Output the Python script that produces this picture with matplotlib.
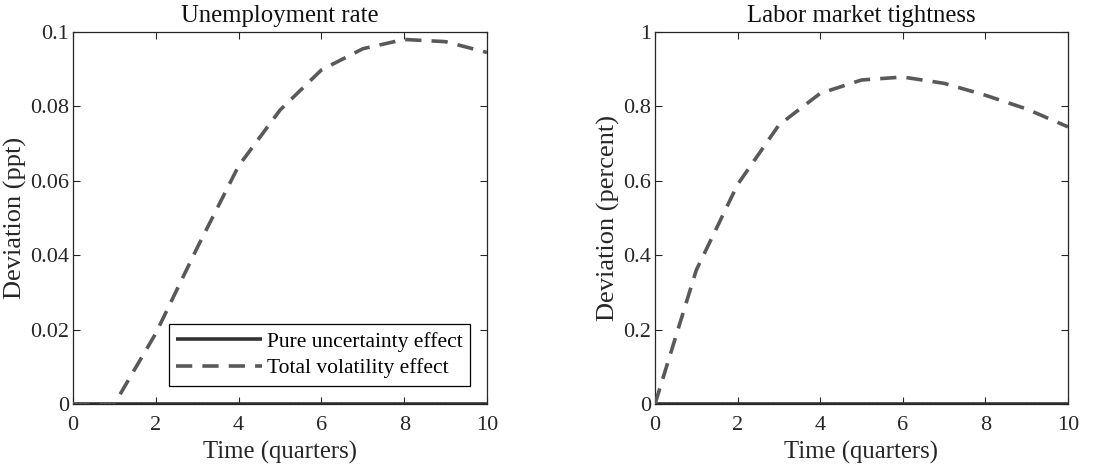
import matplotlib
matplotlib.use("Agg")
import matplotlib.pyplot as plt
import numpy as np

plt.rcParams['font.family'] = ['Liberation Serif', 'DejaVu Serif']
plt.rcParams['mathtext.fontset'] = 'stix'

# quarters after the shock
quarters = [0, 1, 2, 3, 4, 5, 6, 7, 8, 9, 10]

# unemployment rate (ppt)
unemp_pure = [0, 0, 0, 0, 0, 0, 0, 0, 0, 0, 0]
unemp_total = [0.0, 0.0, 0.019, 0.042, 0.064, 0.079, 0.0898, 0.0955, 0.098, 0.0974, 0.0945]

# labor market tightness (percent)
tight_pure = [0, 0, 0, 0, 0, 0, 0, 0, 0, 0, 0]
tight_total = [0.0, 0.36, 0.59, 0.75, 0.835, 0.871, 0.879, 0.862, 0.83, 0.793, 0.745]

titles = ['Unemployment rate', 'Labor market tightness']
ylabels = ['Deviation (ppt)', 'Deviation (percent)']
yticks = [[0, 0.02, 0.04, 0.06, 0.08, 0.1], [0, 0.2, 0.4, 0.6, 0.8, 1]]
yticklabels = [['0', '0.02', '0.04', '0.06', '0.08', '0.1'], ['0', '0.2', '0.4', '0.6', '0.8', '1']]

fig = plt.figure(figsize=(11.2, 4.72), dpi=100)
ax1 = fig.add_axes([73/1120, 1-404/472, (487-73)/1120, (404-32)/472])
ax2 = fig.add_axes([655/1120, 1-404/472, (1068-655)/1120, (404-32)/472])

series = [(unemp_pure, unemp_total), (tight_pure, tight_total)]
for i, ax in enumerate([ax1, ax2]):
    pure, total = series[i]
    ax.plot(quarters, pure, color='#333333', lw=2.6, solid_capstyle='butt',
            label='Pure uncertainty effect', zorder=3)
    ax.plot(quarters, total, color='#595959', lw=2.6, ls=(0, (4.5, 2.8)),
            label='Total volatility effect', zorder=4)
    ax.axhline(0, color='black', lw=1.0, ls=(0, (1, 2)), zorder=5)
    ax.set_xlim(0, 10)
    ax.set_ylim(yticks[i][0], yticks[i][-1])
    ax.set_xticks([0, 2, 4, 6, 8, 10])
    ax.set_yticks(yticks[i])
    ax.set_yticklabels(yticklabels[i])
    ax.tick_params(direction='in', top=True, right=True, labelsize=16,
                   length=5, width=0.8, colors='#262626')
    ax.tick_params(axis='x', pad=9)
    ax.tick_params(axis='y', pad=3)
    for s in ax.spines.values():
        s.set_color('#262626')
        s.set_linewidth(0.9)
    ax.set_title(titles[i], fontsize=17.8, pad=7, color='#111111')
    ax.set_xlabel('Time (quarters)', fontsize=17.8, color='#262626', labelpad=4)
    ax.set_ylabel(ylabels[i], fontsize=19, color='#262626', labelpad=2)

leg = ax1.legend(loc='lower right', bbox_to_anchor=(470/1120, 1-386/472),
                 bbox_transform=fig.transFigure, borderaxespad=0,
                 fontsize=15.5, frameon=True, fancybox=False,
                 edgecolor='black', framealpha=1, handlelength=4.0,
                 handletextpad=0.2, borderpad=0.35, labelspacing=0.3)
leg.get_frame().set_linewidth(0.9)

fig.savefig('out.png', dpi=100)
